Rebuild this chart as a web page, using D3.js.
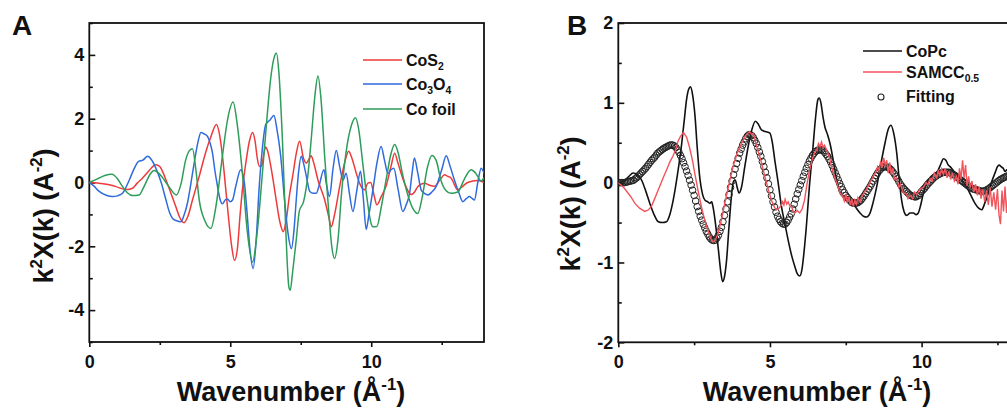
<!DOCTYPE html>
<html><head><meta charset="utf-8">
<script src="https://cdn.jsdelivr.net/npm/d3@7"></script>
<style>
body{margin:0;background:#fff;}
svg{display:block;font-family:"Liberation Sans",Arial,sans-serif;font-weight:bold;}
</style>
</head><body>
<svg id="c" width="1007" height="412"></svg>
<script>
// ---------- Panel A data: [k, k^2 chi(k)] ----------
const cos2 = [[0,0],[0.35,-0.02],[0.71,-0.07],[0.95,-0.13],[1.18,-0.2],[1.35,-0.22],[1.53,-0.18],[1.7,-0.02],[1.89,0.14],[2.1,0.35],[2.25,0.5],[2.36,0.56],[2.5,0.5],[2.62,0.3],[2.72,0.08],[2.9,-0.35],[3.07,-0.76],[3.2,-1.08],[3.36,-1.26],[3.5,-1.05],[3.66,-0.55],[3.9,0.2],[4.13,0.95],[4.3,1.4],[4.51,1.82],[4.62,1.5],[4.72,0.85],[4.85,-0.3],[4.96,-1.3],[5.05,-2.0],[5.15,-2.44],[5.25,-2.1],[5.35,-1.0],[5.43,-0.23],[5.55,0.6],[5.68,1.3],[5.79,1.57],[5.88,1.3],[5.96,0.75],[6.04,0.5],[6.12,0.55],[6.2,0.95],[6.26,1.11],[6.32,1.0],[6.45,0.45],[6.61,-0.44],[6.75,-1.2],[6.88,-1.54],[6.98,-1.2],[7.1,-0.4],[7.23,0.29],[7.35,0.95],[7.46,1.29],[7.6,0.75],[7.7,0.61],[7.8,0.75],[7.87,0.84],[7.95,0.65],[8.11,0.08],[8.35,-0.55],[8.5,-1.1],[8.58,-1.39],[8.7,-1.0],[8.88,-0.13],[9.05,0.6],[9.2,0.98],[9.3,0.8],[9.47,0.29],[9.6,-0.05],[9.76,-0.23],[9.88,-0.02],[9.98,0.0],[10.1,-0.4],[10.2,-0.7],[10.35,-0.45],[10.53,-0.1],[10.7,0.5],[10.83,0.92],[10.95,0.6],[11.18,-0.02],[11.42,-0.38],[11.55,-0.28],[11.65,-0.13],[11.89,-0.02],[12.05,-0.08],[12.24,-0.12],[12.45,0.1],[12.6,0.24],[12.7,0.2],[12.83,0.14],[13.07,-0.23],[13.2,-0.15],[13.42,0.0],[13.78,0.06],[14,0.0]];
const co3o4 = [[0,0],[0.15,-0.1],[0.35,-0.28],[0.6,-0.4],[0.83,-0.44],[1.0,-0.42],[1.18,-0.34],[1.3,-0.15],[1.42,0.08],[1.6,0.45],[1.75,0.66],[1.9,0.7],[2.07,0.82],[2.2,0.72],[2.36,0.45],[2.55,0.0],[2.72,-0.55],[2.85,-0.95],[2.95,-1.12],[3.1,-1.2],[3.25,-1.23],[3.35,-1.05],[3.48,-0.65],[3.6,-0.05],[3.72,0.61],[3.85,1.25],[3.96,1.57],[4.08,1.52],[4.19,1.45],[4.28,1.25],[4.37,0.92],[4.45,0.4],[4.55,-0.13],[4.63,-0.5],[4.72,-0.67],[4.82,-0.55],[4.9,-0.52],[5.0,-0.6],[5.08,-0.55],[5.2,-0.1],[5.37,0.4],[5.5,0.0],[5.6,-1.0],[5.7,-2.1],[5.81,-2.7],[5.92,-1.8],[6.02,-0.23],[6.12,0.9],[6.26,1.82],[6.4,1.95],[6.55,2.1],[6.65,1.7],[6.79,0.82],[6.92,-0.5],[7.05,-1.6],[7.17,-2.07],[7.26,-1.5],[7.34,-0.55],[7.42,0.3],[7.52,0.82],[7.6,0.6],[7.7,0.19],[7.82,-0.28],[7.95,-0.34],[8.05,-0.34],[8.15,-0.1],[8.32,0.4],[8.42,-0.1],[8.52,-0.44],[8.64,0.4],[8.76,1.0],[8.88,0.5],[9.0,0.08],[9.11,0.29],[9.22,-0.3],[9.35,-0.91],[9.48,-0.3],[9.62,0.35],[9.72,-0.5],[9.82,-1.47],[9.92,-1.0],[10.06,-0.23],[10.2,0.6],[10.35,1.13],[10.47,0.7],[10.59,0.29],[10.7,0.4],[10.8,0.45],[10.95,-0.2],[11.12,-0.91],[11.24,-0.7],[11.36,-0.34],[11.45,0.3],[11.53,0.77],[11.65,0.3],[11.77,-0.23],[11.9,-0.35],[12.01,-0.39],[12.15,-0.3],[12.3,-0.13],[12.5,0.4],[12.66,0.84],[12.8,0.5],[12.95,0.08],[13.1,-0.3],[13.25,-0.6],[13.38,-0.5],[13.48,-0.44],[13.58,-0.5],[13.66,-0.55],[13.78,0.0],[13.9,0.45],[14.0,0.29]];
const cofoil = [[0,0],[0.15,0.06],[0.35,0.14],[0.55,0.22],[0.8,0.26],[1.0,0.12],[1.18,-0.13],[1.35,-0.32],[1.53,-0.41],[1.77,-0.39],[1.9,-0.2],[2.0,-0.02],[2.15,0.25],[2.3,0.38],[2.45,0.3],[2.66,0.08],[2.88,-0.2],[3.09,-0.39],[3.25,-0.05],[3.42,0.71],[3.55,1.0],[3.66,1.06],[3.78,0.4],[3.9,-0.55],[4.1,-1.2],[4.31,-1.44],[4.5,-0.7],[4.72,0.82],[4.9,1.95],[5.1,2.52],[5.25,1.8],[5.43,0.29],[5.6,-1.5],[5.79,-2.49],[5.95,-1.6],[6.14,0.29],[6.3,2.0],[6.43,3.23],[6.55,3.9],[6.64,4.05],[6.72,3.5],[6.85,1.34],[6.97,-1.5],[7.08,-3.28],[7.13,-3.38],[7.2,-2.9],[7.34,-1.8],[7.45,-0.9],[7.6,-0.6],[7.75,0.2],[7.87,1.34],[8.0,2.7],[8.11,3.34],[8.22,2.6],[8.35,0.8],[8.5,-1.0],[8.6,-2.0],[8.7,-2.38],[8.82,-1.8],[8.95,-0.3],[9.1,0.9],[9.3,1.8],[9.44,2.03],[9.55,1.7],[9.7,0.6],[9.85,-0.5],[10.0,-1.3],[10.06,-1.39],[10.2,-1.38],[10.35,-0.8],[10.55,0.2],[10.7,0.9],[10.83,1.19],[10.95,0.95],[11.1,0.3],[11.3,-0.4],[11.5,-0.85],[11.65,-0.97],[11.8,-0.5],[12.0,0.5],[12.15,0.85],[12.3,0.7],[12.48,0.05],[12.65,-0.25],[12.83,-0.34],[13.07,-0.3],[13.3,0.1],[13.54,0.4],[13.7,0.3],[13.9,0.05],[14,0.15]];

// ---------- Panel B data ----------
const copc = [[0,0],[0.22,0.03],[0.35,0.08],[0.49,0.12],[0.62,0.1],[0.77,0.03],[0.9,-0.1],[1.04,-0.26],[1.18,-0.4],[1.32,-0.49],[1.45,-0.5],[1.59,-0.49],[1.7,-0.4],[1.81,-0.22],[1.95,0.1],[2.09,0.49],[2.18,0.8],[2.25,1.04],[2.32,1.17],[2.38,1.2],[2.45,1.1],[2.53,0.83],[2.6,0.45],[2.69,0.05],[2.78,-0.15],[2.86,-0.22],[2.95,-0.24],[3.02,-0.26],[3.08,-0.24],[3.13,-0.32],[3.2,-0.5],[3.3,-0.84],[3.38,-1.12],[3.44,-1.24],[3.5,-1.18],[3.57,-0.97],[3.65,-0.55],[3.74,-0.13],[3.8,0.02],[3.86,0.03],[3.92,-0.06],[3.98,-0.13],[4.06,-0.06],[4.17,0.2],[4.28,0.45],[4.4,0.66],[4.52,0.77],[4.62,0.73],[4.72,0.66],[4.85,0.64],[5.0,0.62],[5.08,0.5],[5.16,0.28],[5.27,0.0],[5.38,-0.3],[5.5,-0.53],[5.6,-0.72],[5.72,-0.92],[5.82,-1.05],[5.9,-1.14],[5.98,-1.17],[6.05,-1.1],[6.12,-0.88],[6.2,-0.55],[6.3,-0.05],[6.42,0.45],[6.5,0.8],[6.58,1.04],[6.62,1.06],[6.68,1.0],[6.75,0.82],[6.81,0.7],[6.9,0.6],[6.98,0.49],[7.1,0.25],[7.2,0.03],[7.3,-0.12],[7.42,-0.18],[7.55,-0.2],[7.65,-0.22],[7.75,-0.26],[7.85,-0.32],[7.97,-0.38],[8.08,-0.42],[8.19,-0.43],[8.3,-0.38],[8.4,-0.25],[8.52,-0.05],[8.65,0.22],[8.79,0.49],[8.9,0.67],[8.99,0.72],[9.08,0.62],[9.18,0.37],[9.26,0.05],[9.34,-0.22],[9.42,-0.36],[9.51,-0.41],[9.62,-0.38],[9.73,-0.38],[9.82,-0.4],[9.89,-0.38],[9.97,-0.28],[10.06,-0.13],[10.15,-0.02],[10.25,0.05],[10.33,0.08],[10.44,0.1],[10.55,0.16],[10.64,0.24],[10.72,0.3],[10.8,0.28],[10.88,0.22],[10.94,0.2],[11.05,0.15],[11.21,0.08],[11.35,0.02],[11.48,-0.05],[11.6,-0.14],[11.76,-0.26],[11.88,-0.32],[11.98,-0.34],[12.08,-0.26],[12.2,-0.13],[12.3,0.0],[12.42,0.12],[12.5,0.2],[12.56,0.22],[12.62,0.2],[12.69,0.18],[12.75,0.14],[12.81,0.16],[12.9,0.1],[13.0,0.06]];
const samcc = [[0,0],[0.2,-0.07],[0.4,-0.17],[0.55,-0.26],[0.7,-0.32],[0.87,-0.36],[1.0,-0.34],[1.1,-0.29],[1.2,-0.2],[1.36,-0.05],[1.5,0.08],[1.58,0.15],[1.7,0.26],[1.8,0.33],[1.9,0.42],[1.97,0.52],[2.05,0.58],[2.15,0.63],[2.25,0.57],[2.35,0.44],[2.45,0.27],[2.52,0.12],[2.63,-0.1],[2.74,-0.3],[2.85,-0.47],[2.96,-0.61],[3.05,-0.7],[3.12,-0.74],[3.2,-0.72],[3.29,-0.63],[3.4,-0.47],[3.51,-0.26],[3.65,-0.02],[3.78,0.2],[3.92,0.37],[4.06,0.49],[4.2,0.59],[4.33,0.64],[4.4,0.6],[4.45,0.62],[4.55,0.47],[4.7,0.28],[4.83,0.08],[4.95,-0.09],[5.05,-0.22],[5.15,-0.31],[5.21,-0.34],[5.3,-0.32],[5.38,-0.28],[5.42,-0.24],[5.46,-0.28],[5.5,-0.21],[5.55,-0.27],[5.6,-0.24],[5.65,-0.29],[5.71,-0.3],[5.77,-0.36],[5.82,-0.38],[5.9,-0.35],[5.98,-0.38],[6.06,-0.33],[6.14,-0.22],[6.22,-0.02],[6.31,0.16],[6.4,0.3],[6.47,0.37],[6.55,0.42],[6.6,0.49],[6.65,0.45],[6.7,0.51],[6.75,0.44],[6.8,0.47],[6.87,0.41],[6.95,0.33],[7.02,0.22],[7.09,0.12],[7.2,0.0],[7.31,-0.13],[7.4,-0.17],[7.45,-0.23],[7.5,-0.14],[7.55,-0.25],[7.6,-0.18],[7.65,-0.28],[7.7,-0.2],[7.75,-0.3],[7.8,-0.22],[7.85,-0.27],[7.9,-0.19],[7.97,-0.24],[8.05,-0.16],[8.12,-0.12],[8.19,-0.08],[8.3,0.0],[8.41,0.08],[8.5,0.14],[8.55,0.2],[8.6,0.15],[8.65,0.27],[8.7,0.19],[8.75,0.31],[8.8,0.22],[8.85,0.28],[8.9,0.12],[8.95,0.25],[9.0,0.1],[9.05,0.18],[9.1,0.04],[9.18,0.06],[9.25,-0.06],[9.3,-0.02],[9.4,-0.13],[9.5,-0.14],[9.55,-0.2],[9.62,-0.16],[9.7,-0.2],[9.77,-0.12],[9.84,-0.15],[9.95,-0.08],[10.06,-0.06],[10.15,0.0],[10.2,-0.03],[10.28,0.05],[10.35,0.02],[10.42,0.12],[10.5,0.06],[10.55,0.16],[10.6,0.08],[10.66,0.17],[10.72,0.1],[10.78,0.18],[10.84,0.06],[10.9,0.14],[10.96,0.04],[11.02,0.12],[11.08,0.02],[11.15,0.08],[11.2,-0.02],[11.25,0.18],[11.3,0.04],[11.35,0.28],[11.4,0.06],[11.45,0.22],[11.5,-0.04],[11.55,0.08],[11.6,-0.06],[11.66,0.02],[11.72,-0.12],[11.78,-0.02],[11.84,-0.16],[11.9,-0.05],[11.96,-0.2],[12.02,-0.08],[12.08,-0.24],[12.14,-0.1],[12.2,-0.28],[12.26,-0.06],[12.32,-0.3],[12.38,-0.12],[12.44,-0.34],[12.5,-0.08],[12.55,-0.4],[12.6,-0.52],[12.65,-0.1],[12.7,-0.36],[12.75,-0.05],[12.8,-0.38],[12.85,-0.12],[12.9,-0.3],[12.95,-0.08],[13.0,-0.22]];
// Fitting: sampled every 0.05 Å^-1 from k = 0 (each row = 0.5 Å^-1)
const fitStart = 0, fitStep = 0.05;
const fitting = [
  0,0,0,0,0,0.005,0.01,0.015,0.02,0.025,
  0.03,0.045,0.06,0.08,0.1,0.12,0.14,0.16,0.18,0.205,
  0.23,0.255,0.28,0.3,0.32,0.345,0.37,0.385,0.4,0.415,
  0.43,0.44,0.45,0.46,0.47,0.472,0.47,0.46,0.44,0.41,
  0.38,0.34,0.3,0.25,0.2,0.145,0.09,0.03,-0.03,-0.095,
  -0.16,-0.23,-0.3,-0.36,-0.42,-0.47,-0.52,-0.565,-0.61,-0.645,
  -0.68,-0.705,-0.72,-0.725,-0.72,-0.695,-0.66,-0.61,-0.56,-0.49,
  -0.41,-0.33,-0.24,-0.15,-0.06,0.02,0.1,0.17,0.24,0.305,
  0.37,0.42,0.47,0.51,0.55,0.58,0.6,0.6,0.59,0.565,
  0.53,0.49,0.44,0.385,0.33,0.265,0.2,0.13,0.06,-0.015,
  -0.09,-0.165,-0.24,-0.305,-0.37,-0.42,-0.46,-0.49,-0.51,-0.52,
  -0.52,-0.5,-0.47,-0.43,-0.39,-0.33,-0.27,-0.205,-0.14,-0.085,
  -0.03,0.025,0.08,0.13,0.18,0.225,0.27,0.305,0.34,0.365,
  0.39,0.4,0.41,0.412,0.41,0.4,0.38,0.355,0.33,0.295,
  0.26,0.215,0.17,0.125,0.08,0.035,-0.01,-0.05,-0.09,-0.125,
  -0.16,-0.185,-0.21,-0.23,-0.25,-0.255,-0.26,-0.255,-0.25,-0.235,
  -0.22,-0.195,-0.17,-0.14,-0.11,-0.08,-0.05,-0.015,0.02,0.055,
  0.09,0.12,0.15,0.17,0.19,0.197,0.2,0.197,0.19,0.175,
  0.16,0.135,0.11,0.08,0.05,0.015,-0.02,-0.045,-0.07,-0.09,
  -0.11,-0.13,-0.15,-0.16,-0.17,-0.175,-0.18,-0.17,-0.16,-0.135,
  -0.11,-0.09,-0.07,-0.045,-0.02,0,0.02,0.04,0.06,0.075,
  0.09,0.1,0.11,0.12,0.13,0.13,0.13,0.13,0.13,0.12,
  0.11,0.1,0.09,0.075,0.06,0.045,0.03,0.015,0,-0.015,
  -0.03,-0.045,-0.06,-0.07,-0.08,-0.085,-0.09,-0.095,-0.1,-0.105,
  -0.11,-0.105,-0.1,-0.09,-0.08,-0.065,-0.05,-0.035,-0.02,-0.005,
  0.01,0.025,0.04,0.05,0.06,0.07,0.08,0.085,0.09,0.09,
  0.09];

// ---------- Ticks / labels ----------
const xTicksA = [0,5,10], xMinorA = [2.5,7.5,12.5];
const yTicksA = [-4,-2,0,2,4], yMinorA = [-5,-3,-1,1,3,5];
const xTicksB = [0,5,10], xMinorB = [2.5,7.5,12.5];
const yTicksB = [-2,-1,0,1,2], yMinorB = [-1.5,-0.5,0.5,1.5];
const seriesA = [
  {name:"CoS", sub:"2", data:cos2, color:"#ee3a3a"},
  {name:"Co", sub:"3", mid:"O", sub2:"4", data:co3o4, color:"#2f6bdc"},
  {name:"Co foil", data:cofoil, color:"#2e9c5a"}
];

const svg = d3.select("#c");
const FS_TICK = 18, FS_TITLE = 27, FS_LEG = 16;
const fmt = d => String(d);

function panel(opt){
  const g = svg.append("g");
  const x = d3.scaleLinear().domain(opt.xd).range([opt.left, opt.right]);
  const y = d3.scaleLinear().domain(opt.yd).range([opt.bottom, opt.top]);
  svg.append("defs").append("clipPath").attr("id", "clip"+opt.id)
    .append("rect").attr("x", opt.left).attr("y", opt.top)
    .attr("width", opt.right-opt.left).attr("height", opt.bottom-opt.top);
  g.append("g").attr("transform", `translate(0,${opt.bottom})`)
    .call(d3.axisBottom(x).tickValues(opt.xt).tickFormat(fmt).tickSize(5).tickPadding(8).tickSizeOuter(0));
  g.append("g").attr("transform", `translate(0,${opt.bottom})`)
    .call(d3.axisBottom(x).tickValues(opt.xm).tickSize(3).tickFormat("").tickSizeOuter(0));
  g.append("g").attr("transform", `translate(${opt.left},0)`)
    .call(d3.axisLeft(y).tickValues(opt.yt).tickFormat(fmt).tickSize(-6).tickPadding(5).tickSizeOuter(0));
  g.append("g").attr("transform", `translate(${opt.left},0)`)
    .call(d3.axisLeft(y).tickValues(opt.ym).tickSize(-3.5).tickFormat("").tickSizeOuter(0));
  g.selectAll(".domain").remove();
  g.selectAll(".tick line").attr("stroke","#111").attr("stroke-width",1.6);
  g.selectAll(".tick text").attr("font-size",FS_TICK).attr("font-weight","bold")
    .attr("font-family","'Liberation Sans',Arial,sans-serif").attr("fill","#111");
  g.append("rect").attr("x",opt.left).attr("y",opt.top)
    .attr("width",opt.right-opt.left).attr("height",opt.bottom-opt.top)
    .attr("fill","none").attr("stroke","#111").attr("stroke-width",1.8);
  return {g, x, y};
}

// ---------- Panel A ----------
const A = panel({id:"A", xd:[0,14], yd:[-5,5], left:89.3, right:484, top:23, bottom:342,
  xt:xTicksA, xm:xMinorA, yt:yTicksA, ym:yMinorA});
const lineA = d3.line().x(d=>A.x(d[0])).y(d=>A.y(d[1])).curve(d3.curveMonotoneX);
A.g.append("g").attr("clip-path","url(#clipA)").selectAll("path").data(seriesA).join("path")
  .attr("d", s=>lineA(s.data)).attr("fill","none").attr("stroke", s=>s.color).attr("stroke-width",1.5);

const legA = A.g.append("g");
const legAy = [60, 84, 109];
seriesA.forEach((s,i)=>{
  legA.append("line").attr("x1",363).attr("x2",402).attr("y1",legAy[i]).attr("y2",legAy[i])
    .attr("stroke",s.color).attr("stroke-width",1.6);
  const t = legA.append("text").attr("x",406).attr("y",legAy[i]+5.5).attr("font-size",FS_LEG).attr("fill","#111");
  t.append("tspan").text(s.name);
  if(s.sub){ t.append("tspan").attr("font-size",FS_LEG*0.65).attr("dy",4).text(s.sub); }
  if(s.mid){ t.append("tspan").attr("dy",-4).text(s.mid); }
  if(s.sub2){ t.append("tspan").attr("font-size",FS_LEG*0.65).attr("dy",4).text(s.sub2); }
});

// ---------- Panel B ----------
const B = panel({id:"B", xd:[0,13], yd:[-2,2], left:618.3, right:1012.6, top:23, bottom:342.3,
  xt:xTicksB, xm:xMinorB, yt:yTicksB, ym:yMinorB});
const lineB = d3.line().x(d=>B.x(d[0])).y(d=>B.y(d[1])).curve(d3.curveMonotoneX);
const lineBraw = d3.line().x(d=>B.x(d[0])).y(d=>B.y(d[1]));
const gB = B.g.append("g").attr("clip-path","url(#clipB)");
gB.append("path").attr("d", lineB(copc)).attr("fill","none").attr("stroke","#111").attr("stroke-width",1.6);
gB.selectAll("circle").data(fitting).join("circle")
  .attr("cx",(d,i)=>B.x(fitStart+i*fitStep)).attr("cy",d=>B.y(d)).attr("r",3.3)
  .attr("fill","none").attr("stroke","#222").attr("stroke-width",1);
gB.append("path").attr("d", lineBraw(samcc)).attr("fill","none").attr("stroke","#f2545c").attr("stroke-width",1.4);

const legB = B.g.append("g");
legB.append("line").attr("x1",863).attr("x2",902).attr("y1",51).attr("y2",51).attr("stroke","#111").attr("stroke-width",1.6);
legB.append("text").attr("x",906).attr("y",56.5).attr("font-size",FS_LEG).attr("fill","#111").text("CoPc");
legB.append("line").attr("x1",863).attr("x2",902).attr("y1",72).attr("y2",72).attr("stroke","#f2545c").attr("stroke-width",1.6);
const tb = legB.append("text").attr("x",906).attr("y",77.5).attr("font-size",FS_LEG).attr("fill","#111");
tb.append("tspan").text("SAMCC");
tb.append("tspan").attr("font-size",FS_LEG*0.65).attr("dy",4).text("0.5");
legB.append("circle").attr("cx",881).attr("cy",97).attr("r",3).attr("fill","none").attr("stroke","#222").attr("stroke-width",1.1);
legB.append("text").attr("x",906).attr("y",102).attr("font-size",FS_LEG).attr("fill","#111").text("Fitting");

// ---------- Titles ----------
function xTitle(cx){
  const t = svg.append("text").attr("x",cx).attr("y",401).attr("text-anchor","middle")
    .attr("font-size",FS_TITLE).attr("fill","#111");
  t.append("tspan").text("Wavenumber (Å");
  t.append("tspan").attr("font-size",FS_TITLE*0.62).attr("dy",-11).text("-1");
  t.append("tspan").attr("dy",11).text(")");
}
function yTitle(bx, cy){
  const t = svg.append("text").attr("transform",`translate(${bx},${cy}) rotate(-90)`)
    .attr("text-anchor","middle").attr("font-size",FS_TITLE).attr("fill","#111");
  t.append("tspan").text("k");
  t.append("tspan").attr("font-size",FS_TITLE*0.62).attr("dy",-11).text("2");
  t.append("tspan").attr("dy",11).text("X(k) (A");
  t.append("tspan").attr("font-size",FS_TITLE*0.62).attr("dy",-11).text("-2");
  t.append("tspan").attr("dy",11).text(")");
}
xTitle(291); xTitle(817);
yTitle(53, 216); yTitle(580, 204);

svg.append("text").attr("x",12).attr("y",35).attr("font-size",28).attr("fill","#111").text("A");
svg.append("text").attr("x",567).attr("y",35).attr("font-size",28).attr("fill","#111").text("B");
</script>
</body></html>
